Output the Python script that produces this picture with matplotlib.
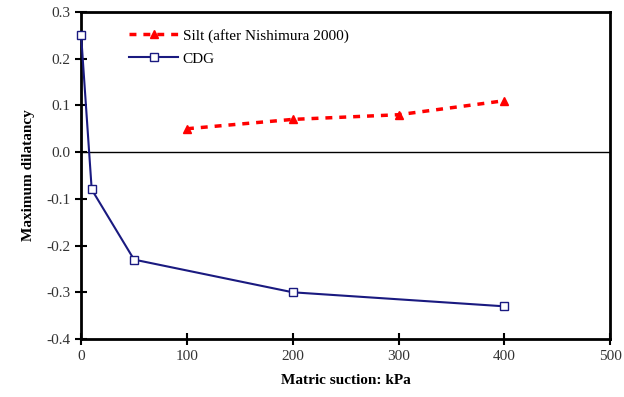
import matplotlib.pyplot as plt

plt.rcParams['font.family'] = ['Liberation Serif', 'DejaVu Serif']
plt.rcParams['axes.unicode_minus'] = False

cdg_x = [0, 10, 50, 200, 400]
cdg_y = [0.25, -0.08, -0.23, -0.30, -0.33]
silt_x = [100, 200, 300, 400]
silt_y = [0.05, 0.07, 0.08, 0.11]

fig = plt.figure(figsize=(6.24, 3.97), dpi=100)
ax = fig.add_axes([0.130, 0.146, 0.848, 0.824])

ax.axhline(0, color='black', lw=1.0, zorder=1)
ax.plot(silt_x, silt_y, color='#ff0000', ls=(0, (2, 2)), lw=2.5,
        marker='^', ms=6, label='Silt (after Nishimura 2000)')
ax.plot(cdg_x, cdg_y, color='#1a1a80', lw=1.5, marker='s', ms=6,
        mfc='white', mec='#1a1a80', mew=1.0, label='CDG', clip_on=False, zorder=5)

ax.set_xlim(0, 500)
ax.set_ylim(-0.4, 0.3)
ax.set_xticks([0, 100, 200, 300, 400, 500])
ax.set_yticks([-0.4, -0.3, -0.2, -0.1, 0.0, 0.1, 0.2, 0.3])
ax.yaxis.set_major_formatter(plt.FormatStrFormatter('%.1f'))
ax.tick_params(direction='inout', length=8, width=1.5, labelsize=11,
               labelcolor='#333333', pad=4)
for s in ax.spines.values():
    s.set_linewidth(2)

ax.set_xlabel('Matric suction: kPa', fontsize=11, fontweight='bold', labelpad=8)
ax.set_ylabel('Maximum dilatancy', fontsize=11, fontweight='bold', labelpad=8)

ax.legend(loc='upper left', bbox_to_anchor=(0.065, 0.99), frameon=False,
          fontsize=11, handlelength=3.2, labelspacing=0.6, handletextpad=0.3,
          markerscale=0.85)

fig.savefig('out.png', dpi=100)
